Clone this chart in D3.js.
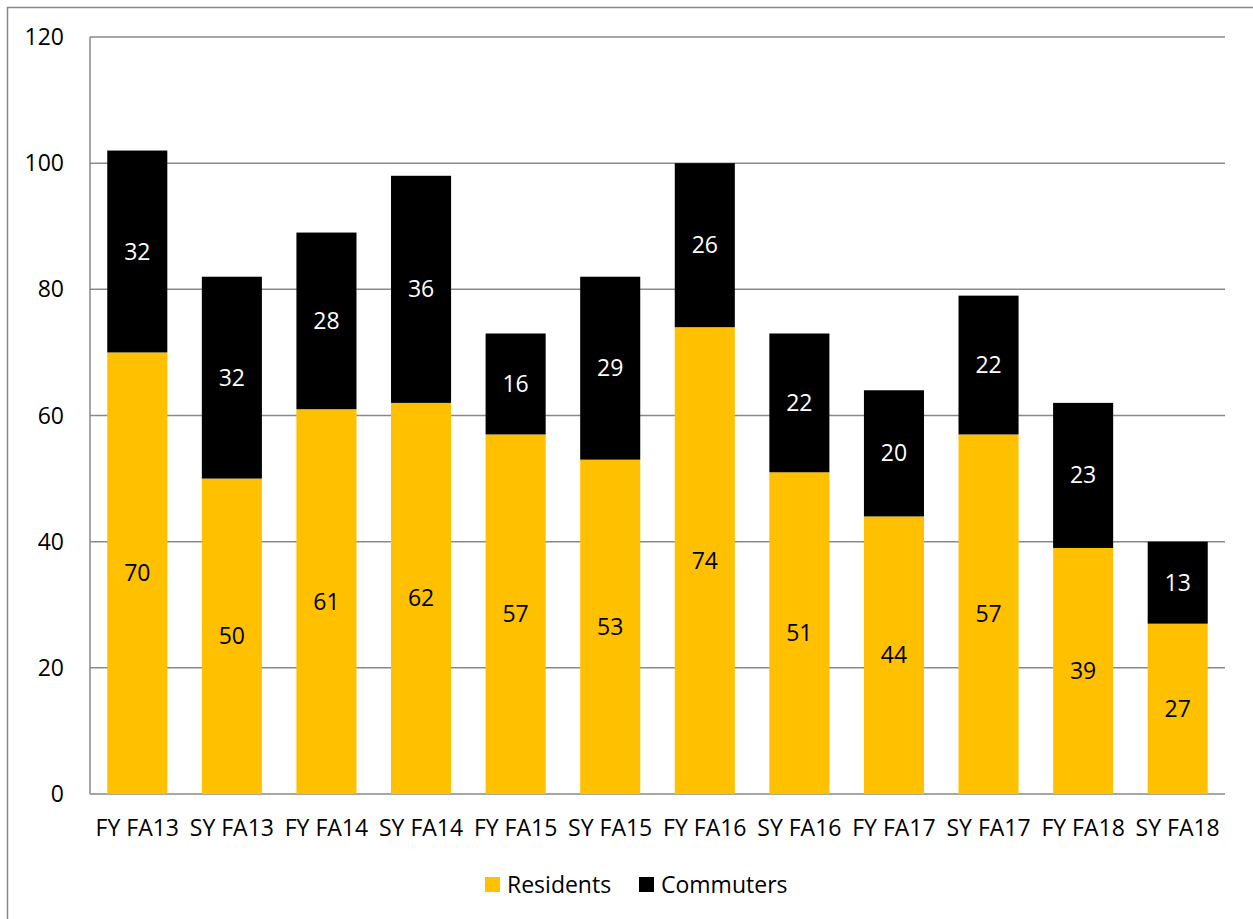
<!DOCTYPE html>
<html>
<head>
<meta charset="utf-8">
<script src="https://cdn.jsdelivr.net/npm/d3@7"></script>
<style>
  body { margin: 0; background: #fff; }
  svg { display: block; font-family: "Open Sans", "Noto Sans", sans-serif; }
</style>
</head>
<body>
<svg width="1253" height="919"></svg>
<script>
// chart data
var categories = ["FY FA13", "SY FA13", "FY FA14", "SY FA14", "FY FA15", "SY FA15",
                  "FY FA16", "SY FA16", "FY FA17", "SY FA17", "FY FA18", "SY FA18"];
var residents = [70, 50, 61, 62, 57, 53, 74, 51, 44, 57, 39, 27];
var commuters = [32, 32, 28, 36, 16, 29, 26, 22, 20, 22, 23, 13];
var seriesNames = ["Residents", "Commuters"];
var yTicks = [0, 20, 40, 60, 80, 100, 120];

var colors = ["#FFC000", "#000000"];
var labelColors = ["#000000", "#ffffff"];
var fontSize = 23;

var svg = d3.select("svg"),
    width = +svg.attr("width"),
    height = +svg.attr("height");

var margin = {left: 90, right: 28, top: 37, bottom: 125};

// outer frame
svg.append("rect")
    .attr("x", 7.5)
    .attr("y", 7.5)
    .attr("width", width)
    .attr("height", height)
    .attr("fill", "none")
    .attr("stroke", "#868686")
    .attr("stroke-width", 1.5);

var x = d3.scaleBand()
    .domain(categories)
    .range([margin.left, width - margin.right])
    .paddingInner(0.365)
    .paddingOuter(0.1825);

var y = d3.scaleLinear()
    .domain([0, 120])
    .range([height - margin.bottom, margin.top]);

// gridlines
svg.append("g")
    .selectAll("line")
    .data(yTicks)
    .enter().append("line")
    .attr("x1", margin.left)
    .attr("x2", width - margin.right)
    .attr("y1", (d) => y(d))
    .attr("y2", (d) => y(d))
    .attr("stroke", "#898989")
    .attr("stroke-width", 1.5);

svg.append("line")
    .attr("x1", margin.left)
    .attr("x2", margin.left)
    .attr("y1", y(0))
    .attr("y2", y(120))
    .attr("stroke", "#898989")
    .attr("stroke-width", 1.5);

// y tick labels
svg.append("g")
    .selectAll("text")
    .data(yTicks)
    .enter().append("text")
    .attr("x", 64)
    .attr("y", (d) => y(d))
    .attr("dy", "0.35em")
    .attr("text-anchor", "end")
    .attr("font-size", fontSize)
    .attr("fill", "#000")
    .text((d) => d);

// stacked bars
var rows = categories.map(function(c, i) {
    return {cat: c, Residents: residents[i], Commuters: commuters[i]};
});
var stack = d3.stack().keys(seriesNames)(rows);

var layers = svg.append("g")
    .selectAll("g")
    .data(stack)
    .enter().append("g");

layers.selectAll("rect")
    .data((d) => d)
    .enter().append("rect")
    .attr("x", (d) => x(d.data.cat))
    .attr("width", x.bandwidth())
    .attr("y", (d) => y(d[1]))
    .attr("height", (d) => y(d[0]) - y(d[1]))
    .attr("fill", function() { return colors[d3.select(this.parentNode).datum().index]; });

layers.selectAll("text")
    .data((d) => d)
    .enter().append("text")
    .attr("x", (d) => x(d.data.cat) + x.bandwidth() / 2)
    .attr("y", (d) => y((d[0] + d[1]) / 2))
    .attr("dy", "0.35em")
    .attr("text-anchor", "middle")
    .attr("font-size", fontSize)
    .attr("fill", function() { return labelColors[d3.select(this.parentNode).datum().index]; })
    .text((d) => d[1] - d[0]);

// x labels
svg.append("g")
    .selectAll("text")
    .data(categories)
    .enter().append("text")
    .attr("x", (d) => x(d) + x.bandwidth() / 2)
    .attr("y", 828)
    .attr("dy", "0.35em")
    .attr("text-anchor", "middle")
    .attr("font-size", fontSize)
    .attr("fill", "#000")
    .text((d) => d);

// legend
var legendX = [485, 639];
var legend = svg.append("g")
    .selectAll("g")
    .data(seriesNames)
    .enter().append("g")
    .attr("transform", (d, i) => "translate(" + legendX[i] + ",877)");

legend.append("rect")
    .attr("width", 15)
    .attr("height", 15)
    .attr("fill", (d, i) => colors[i]);

legend.append("text")
    .attr("x", 22)
    .attr("y", 8)
    .attr("dy", "0.35em")
    .attr("font-size", fontSize)
    .attr("fill", "#000")
    .text((d) => d);
</script>
</body>
</html>
